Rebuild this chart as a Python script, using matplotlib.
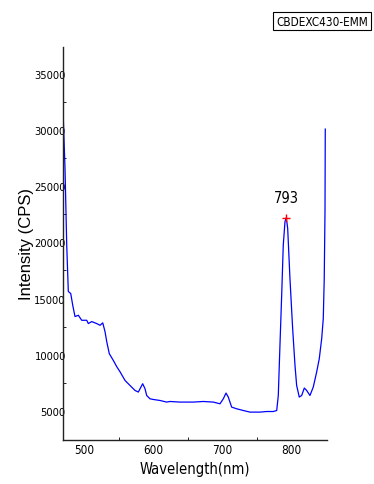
import matplotlib
matplotlib.use("Agg")
import matplotlib.pyplot as plt
from matplotlib import font_manager as fm

cond_file = None
for f in fm.fontManager.ttflist:
    n = f.fname.lower()
    if ('narrow' in n or 'condensed' in n) and 'bold' not in n and 'oblique' not in n and 'italic' not in n and 'mono' not in n and 'serif' not in n.replace('sans', ''):
        cond_file = f.fname
        break

def cfont(size):
    if cond_file:
        return fm.FontProperties(fname=cond_file, size=size)
    return fm.FontProperties(family='Liberation Sans', size=size * 0.85)

wavelength = [468.4, 471.7, 474.2, 476.5, 480.0, 482.9, 486.2, 491.0, 495.9, 503.2,
              505.5, 510.4, 517.7, 522.5, 526.4, 529.7, 532.2, 535.9, 541.7, 546.7,
              551.4, 558.7, 565.9, 573.2, 578.0, 584.3, 587.7, 590.1, 594.9, 599.7,
              609.4, 619.1, 623.9, 638.4, 657.7, 672.2, 686.7, 696.4, 701.2, 705.1,
              708.4, 713.3, 720.6, 730.1, 739.9, 754.3, 764.1, 773.6, 778.6, 780.9,
              783.3, 785.8, 788.1, 790.6, 792.5, 794.5, 797.8, 801.7, 805.1, 807.5,
              811.3, 814.8, 818.6, 822.0, 826.8, 831.6, 836.5, 840.3, 843.8, 846.1,
              847.5, 848.6, 849.0]
intensity = [32564, 26608, 19760, 15625, 15447, 14402, 13393, 13509, 13063, 13063,
             12768, 12947, 12768, 12616, 12831, 12054, 11161, 10089, 9491, 8929,
             8482, 7705, 7259, 6813, 6670, 7411, 6964, 6366, 6071, 6009,
             5920, 5777, 5830, 5777, 5777, 5830, 5777, 5625, 6071, 6580,
             6223, 5330, 5179, 5027, 4884, 4884, 4937, 4937, 5027, 6366,
             10830, 15295, 19760, 21850, 22205, 21250, 16786, 12322, 9045, 7259,
             6223, 6366, 7027, 6813, 6366, 7116, 8455, 9643, 11429, 13214,
             16786, 22768, 30090]

peak_x = 792.5
peak_y = 22205
peak_label = "793"
legend_text = "CBDEXC430-EMM"
xticks = [500, 600, 700, 800]
yticks = [5000, 10000, 15000, 20000, 25000, 30000, 35000]

fig = plt.figure(figsize=(3.74, 4.85), dpi=100)
ax = fig.add_axes([63/374, 1-441/485, (327-63)/374, (441-48)/485])
ax.plot(wavelength, intensity, color='#0000ff', lw=0.9)
ax.plot([peak_x], [peak_y], marker='+', color='red', ms=6, mew=1)
ax.text(peak_x, peak_y + 1100, peak_label, ha='center', va='bottom',
        fontproperties=cfont(10.5))

ax.set_xlim(468.8, 851.5)
ax.set_ylim(2400, 37400)
ax.set_xticks(xticks)
ax.set_xticklabels([str(v) for v in xticks], fontproperties=cfont(8.5))
ax.set_yticks(yticks)
ax.set_yticklabels([str(v) for v in yticks], fontproperties=cfont(8))
ax.set_xticks([550, 650, 750], minor=True)
ax.set_yticks([7500, 12500, 17500, 22500, 27500, 32500], minor=True)
ax.tick_params(axis='both', which='major', length=0)
ax.tick_params(axis='both', which='minor', length=2, direction='in', width=0.6)
ax.tick_params(axis='y', which='major', pad=-2)
ax.tick_params(axis='x', which='major', pad=2)
for s in ['top', 'right']:
    ax.spines[s].set_visible(False)
for s in ['left', 'bottom']:
    ax.spines[s].set_linewidth(1.0)
    ax.spines[s].set_color('#222222')

ax.set_ylabel("Intensity (CPS)", family='Liberation Sans', fontsize=12)
ax.yaxis.set_label_coords(-(63 - 27) / 264, 0.5)
ax.set_xlabel("Wavelength(nm)", fontproperties=cfont(10.5))
ax.xaxis.set_label_coords((195 - 63) / 264, -(470 - 441) / 393)
ax.xaxis.label.set_va('center')
ax.yaxis.label.set_va('center')

fig.text(368/374, 1-22/485, legend_text, ha='right', va='center',
         fontproperties=cfont(8.5),
         bbox=dict(boxstyle='square,pad=0.25', fc='white', ec='black', lw=0.8))

fig.savefig('out.png', dpi=100)
